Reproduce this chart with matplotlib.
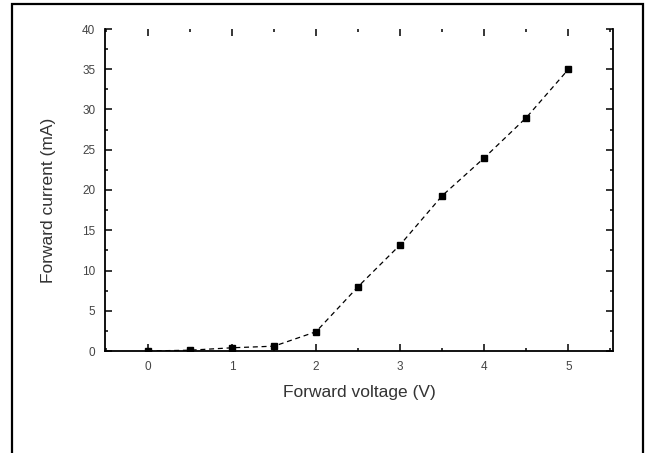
import matplotlib
matplotlib.use("Agg")
import matplotlib.pyplot as plt
from matplotlib.patches import Rectangle
from matplotlib.ticker import MultipleLocator

voltage = [0, 0.5, 1.0, 1.5, 2.0, 2.5, 3.0, 3.5, 4.0, 4.5, 5.0]
current = [0.0, 0.1, 0.4, 0.6, 2.4, 8.0, 13.2, 19.3, 24.0, 29.0, 35.0]
x_ticks = [0, 1, 2, 3, 4, 5]
x_tick_labels = ["0", "1", "2", "3", "4", "5"]
y_ticks = [0, 5, 10, 15, 20, 25, 30, 35, 40]
y_tick_labels = ["0", "5", "10", "15", "20", "25", "30", "35", "40"]

plt.rcParams['font.family'] = ['Liberation Sans', 'DejaVu Sans']
fig = plt.figure(figsize=(6.5, 4.53), dpi=100)
fig.patch.set_facecolor('white')
fig.add_artist(Rectangle((12/650, -0.02), (643-12)/650, 1.02 - 4/453,
                         transform=fig.transFigure, fill=False,
                         edgecolor='black', linewidth=1.6))

ax = fig.add_axes([105/650, 1-351/453, (613-105)/650, (351-29)/453])
ax.plot(voltage, current, color='black', linestyle=(0, (4, 3)), linewidth=0.9,
        marker='s', markersize=4.5, markerfacecolor='black', markeredgecolor='black')

ax.set_xlim(-0.51, 5.53)
ax.set_ylim(0, 40)
ax.set_xticks(x_ticks)
ax.set_xticklabels(x_tick_labels)
ax.set_yticks(y_ticks)
ax.set_yticklabels(y_tick_labels)
ax.xaxis.set_minor_locator(MultipleLocator(0.5))
ax.yaxis.set_minor_locator(MultipleLocator(2.5))
ax.tick_params(which='both', direction='in', top=True, right=True,
               labelsize=8.5, labelcolor='#444444', width=1.1)
ax.tick_params(which='major', length=5, pad=7)
ax.tick_params(which='minor', length=2.5)
ax.spines['top'].set_visible(False)
for s in ['left', 'bottom', 'right']:
    ax.spines[s].set_linewidth(1.3)

ax.set_xlabel("Forward voltage (V)", fontsize=12.5, color='#333333')
ax.set_ylabel("Forward current (mA)", fontsize=12.5, color='#333333')
ax.xaxis.set_label_coords(0.5, -0.130, transform=ax.transAxes)
ax.xaxis.label.set_verticalalignment('center')
ax.yaxis.set_label_coords(-0.112, 0.469, transform=ax.transAxes)
ax.yaxis.label.set_verticalalignment('center')

fig.savefig("out.png", dpi=100)
